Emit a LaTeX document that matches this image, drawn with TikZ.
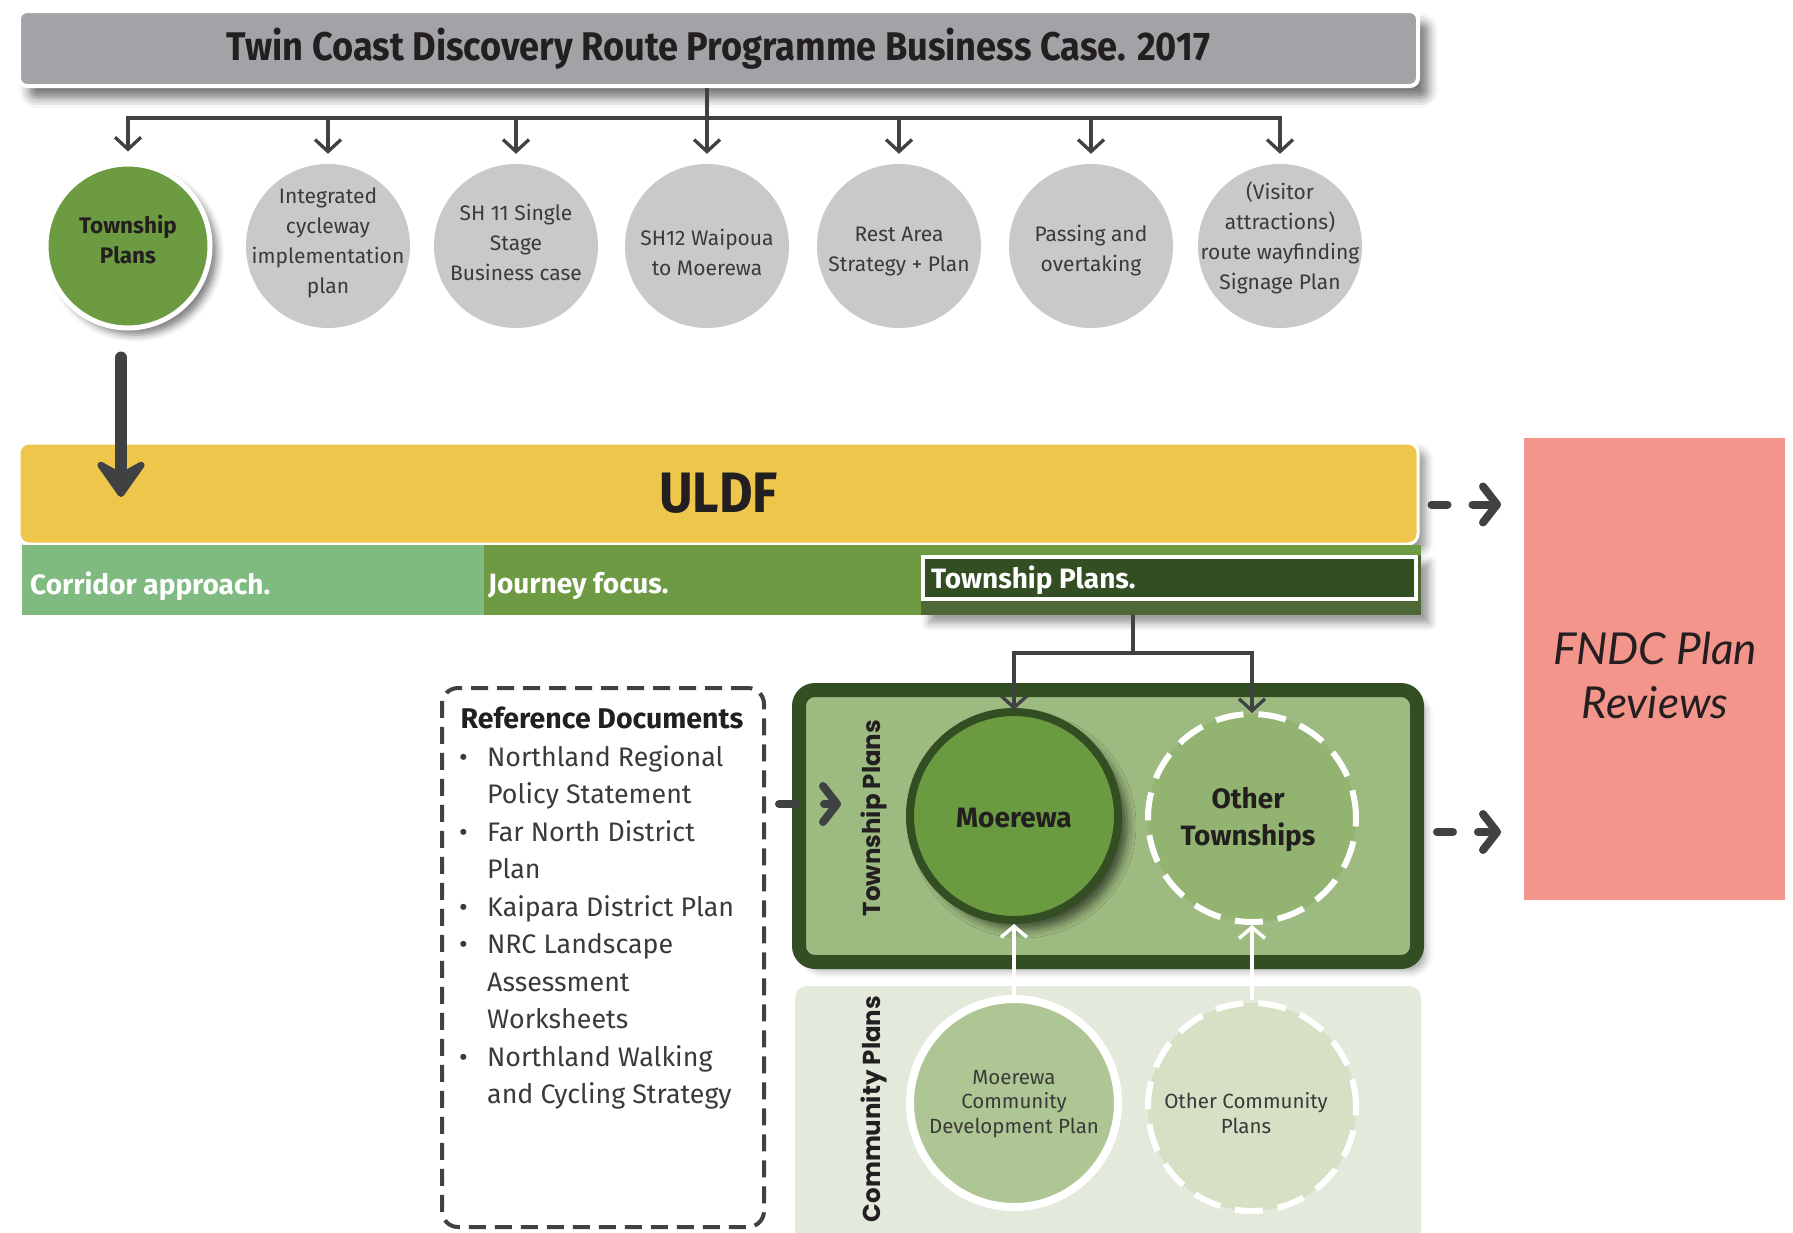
\documentclass[tikz,border=0pt]{standalone}
\usepackage{fontspec}
\setmainfont{Fira Sans}
\newfontfamily\condfont[FakeStretch=0.905]{Fira Sans}
\newfontfamily\popfont{Poppins}
\newfontfamily\latofont{Lato}
\usetikzlibrary{arrows.meta,shadows.blur,calc}
\definecolor{ttlgray}{HTML}{A2A3A6}
\definecolor{cgray}{HTML}{C8C9CB}
\definecolor{ink}{HTML}{231F20}
\definecolor{cink}{HTML}{3A3A3A}
\definecolor{conn}{HTML}{404143}
\definecolor{tgreen}{HTML}{6D9B41}
\definecolor{uyellow}{HTML}{EDC64B}
\definecolor{corr}{HTML}{7FBA80}
\definecolor{journ}{HTML}{6E9A43}
\definecolor{dgreen}{HTML}{344E23}
\definecolor{dgreen2}{HTML}{4D6735}
\definecolor{fndc}{HTML}{F4958C}
\definecolor{tpfill}{HTML}{9DBA80}
\definecolor{moer}{HTML}{6B9B40}
\definecolor{othert}{HTML}{93B470}
\definecolor{cpfill}{HTML}{E3EADB}
\definecolor{mcdp}{HTML}{AEC594}
\definecolor{ocp}{HTML}{D5E0C5}
\begin{document}
\begin{tikzpicture}[x=1pt,y=-1pt,
  softshadow/.style={blur shadow={shadow xshift=8pt, shadow yshift=-8pt, shadow blur radius=8pt, shadow opacity=40}},
  graycirc/.style={circle, fill=cgray, minimum size=164pt, inner sep=0pt},
  ctext/.style={align=center, inner sep=0pt, text=cink, font=\fontsize{21pt}{30pt}\selectfont},
  thline/.style={draw=conn, line width=3.3pt},
  tarrow/.style={draw=conn, line width=3.3pt, -{Straight Barb[length=12pt,width=26pt]}},
  wplain/.style={rectangle, inner sep=0pt, anchor=north west},
  striplabel/.style={anchor=west, inner sep=0pt, text=white, font=\bfseries\fontsize{28pt}{30pt}\selectfont},
  bigcirc/.style={circle, minimum size=208pt, inner sep=0pt},
  btext/.style={align=center, inner sep=0pt, text=ink, font=\bfseries\fontsize{28pt}{37pt}\selectfont},
  stext/.style={align=center, inner sep=0pt, text=cink, font=\fontsize{20.5pt}{24.6pt}\selectfont},
  vlabel/.style={rotate=90, inner sep=0pt, text=ink, font=\popfont\bfseries\fontsize{24.5pt}{26pt}\selectfont},
  fndcarrow/.style={draw=conn, line width=8pt, line cap=round, -{Straight Barb[round,length=14pt,width=36pt]}},
]
\useasboundingbox (0,0) rectangle (1793,1232);
\clip (0,0) rectangle (1793,1232);

% FNDC box
\node[wplain, fill=fndc, minimum width=261pt, minimum height=462pt] (fndc) at (1524,438) {};
\node[align=center, font=\latofont\itshape\fontsize{44pt}{54pt}\selectfont, text=ink] (fndct) at (1655,675) {FNDC Plan\\Reviews};

% Title
\node[rectangle, rounded corners=8pt, fill=ttlgray, draw=white, line width=4pt,
      minimum width=1399pt, minimum height=75pt,
      blur shadow={shadow xshift=10pt, shadow yshift=-12pt, shadow blur radius=10pt, shadow opacity=55},
      font=\condfont\bfseries\fontsize{40pt}{42pt}\selectfont, text=ink] (title) at (718.5,48.5)
      {Twin Coast Discovery Route Programme Business Case. 2017};

% top circles
\node[circle, fill=tgreen, draw=white, line width=5pt, minimum size=164pt, inner sep=0pt,
      blur shadow={shadow xshift=7pt, shadow yshift=-7pt, shadow blur radius=7pt, shadow opacity=50}] (c1) at (128,246) {};
\node[graycirc] (c2) at (328,246) {};
\node[graycirc] (c3) at (516,246) {};
\node[graycirc] (c4) at (707,246) {};
\node[graycirc] (c5) at (899,246) {};
\node[graycirc] (c6) at (1091,246) {};
\node[graycirc] (c7) at (1280,246) {};
\node[ctext, text=ink, font=\bfseries\fontsize{22.5pt}{30pt}\selectfont] (t1) at (128,240) {Township\\Plans};
\node[ctext] (t2) at (328,243) {Integrated\\cycleway\\implementation\\plan};
\node[ctext] (t3) at (516,242) {SH 11 Single\\Stage\\Business case};
\node[ctext] (t4) at (707,252) {SH12 Waipoua\\to Moerewa};
\node[ctext] (t5) at (899,251) {Rest Area\\Strategy + Plan};
\node[ctext] (t6) at (1091,251) {Passing and\\overtaking};
\node[ctext] (t7) at (1280,238) {(Visitor\\attractions)\\route wayfinding\\Signage Plan};

% top connectors
\coordinate (tj) at (707,118);
\draw[thline] (title.south -| tj) -- (tj);
\foreach \c in {c1,c2,c3,c4,c5,c6,c7}{
  \draw[tarrow, shorten >=10pt] (tj) -| (\c.north);
}

% ULDF
\node[rectangle, rounded corners=10pt, fill=uyellow, draw=white, line width=3pt,
      minimum width=1399pt, minimum height=101pt, softshadow,
      font=\condfont\bfseries\fontsize{57pt}{58pt}\selectfont, text=ink] (uldf) at (718.5,493.5) {ULDF};

% strips
\node[wplain, fill=corr, minimum width=462pt, minimum height=70pt] (corr) at (22,545) {};
\node[wplain, fill=journ, minimum width=937pt, minimum height=70pt] (journ) at (484,545) {};
\node[wplain, fill=dgreen2, minimum width=500pt, minimum height=60pt, softshadow] (tpdark) at (921,555) {};
\node[rectangle, fill=dgreen, draw=white, line width=4pt, minimum width=493pt, minimum height=42pt, inner sep=0pt] (tpstrip) at (1169.5,578) {};
\node[striplabel] (corrl) at (30,586) {Corridor approach.};
\node[striplabel] (journl) at (488,586) {Journey focus.};
\node[striplabel] (tpl) at (931,580) {Township Plans.};

% big arrow from Township Plans
\coordinate (bigtip) at (121,497);
\draw[conn, line width=12pt, line cap=round, shorten <=27pt, -{Stealth[length=44pt,width=62pt,inset=17pt,round]}] (c1.south -| bigtip) -- (bigtip);

% ULDF -> FNDC
\draw[fndcarrow, dash pattern=on 16pt off 25pt on 300pt, shorten <=12pt, shorten >=23pt]
  ([yshift=-11pt]uldf.east) -- ([yshift=-11pt]uldf.east -| fndc.west);

% community container
\node[rectangle, fill=cpfill, rounded corners=12pt, minimum width=626pt, minimum height=264pt] (cpbox) at (1108,1118) {};
% township container
\node[rectangle, fill=tpfill, draw=dgreen, line width=14pt, rounded corners=16pt,
      minimum width=618pt, minimum height=272pt, softshadow] (tpbox) at (1108,826) {};

\node[vlabel] (tplab) at (874,818) {Township Plans};
\node[vlabel] (cplab) at (874,1109) {Community Plans};

\node[bigcirc, fill=moer, draw=dgreen, line width=8pt,
      blur shadow={shadow xshift=9pt, shadow yshift=-9pt, shadow blur radius=9pt, shadow opacity=60}] (moer) at (1014,816) {};
\node[bigcirc, fill=othert, draw=white, line width=6pt, dash pattern=on 28pt off 15pt] (oth) at (1252,818) {};
\node[bigcirc, fill=mcdp, draw=white, line width=8pt] (mcdp) at (1014,1103) {};
\node[bigcirc, fill=ocp, draw=white, line width=6pt, dash pattern=on 28pt off 15pt] (ocp) at (1252,1107) {};
\node[btext] (moert) at (1014,818) {Moerewa};
\node[btext] (otht) at (1248,819) {Other\\Townships};
\node[stext] (mcdpt) at (1014,1104) {Moerewa\\Community\\Development Plan};
\node[stext] (ocpt) at (1246,1113) {Other Community\\Plans};

% connectors township plans strip -> circles
\coordinate (lj) at (1133,653);
\draw[thline] (journ.south -| lj) -- (lj);
\draw[tarrow, shorten >=-2pt] (lj) -| (moer.north);
\draw[tarrow, shorten >=-2pt] (lj) -| (oth.north);

% white arrows up
\draw[white, line width=3.5pt, -{Straight Barb[length=11pt,width=26pt]}] (mcdp.north) -- (moer.south);
\draw[white, line width=3.5pt, -{Straight Barb[length=11pt,width=26pt]}] (ocp.north) -- (oth.south);

% container -> FNDC
\draw[fndcarrow, dash pattern=on 16pt off 25pt on 300pt, shorten <=13pt, shorten >=23pt]
  ([yshift=-6pt]tpbox.east) -- ([yshift=-6pt]tpbox.east -| fndc.west);

% reference documents
\node[rectangle, draw=conn, line width=4pt, dash pattern=on 17pt off 9pt, rounded corners=16pt,
      minimum width=322pt, minimum height=539pt] (ref) at (603,957.5) {};
\node[text=ink, font=\bfseries\fontsize{28.5pt}{30pt}\selectfont] (refh) at (602,718) {Reference Documents};
\node[anchor=north west, inner sep=0pt, text=cink, font=\fontsize{26.8pt}{37.5pt}\selectfont] (refl) at (459,740) {%
  \begin{tabular}{@{}p{28pt}@{}l@{}}
  \textbullet & Northland Regional\\
   & Policy Statement\\
  \textbullet & Far North District\\
   & Plan\\
  \textbullet & Kaipara District Plan\\
  \textbullet & NRC Landscape\\
   & Assessment\\
   & Worksheets\\
  \textbullet & Northland Walking\\
   & and Cycling Strategy
  \end{tabular}};

% reference -> township container
\draw[fndcarrow, dash pattern=on 17pt off 28pt on 300pt, shorten <=13pt, shorten >=-49pt]
  ([yshift=153.5pt]ref.east) -- ([yshift=153.5pt]ref.east -| tpbox.west);
\end{tikzpicture}
\end{document}
